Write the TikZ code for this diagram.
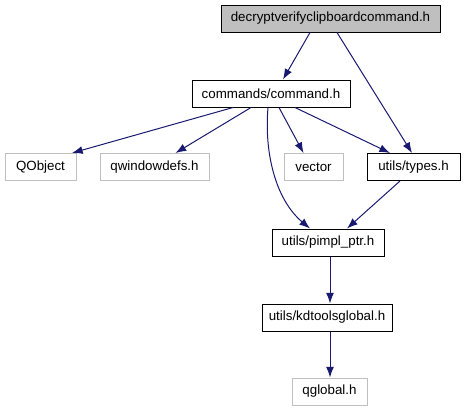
\documentclass[tikz,border=0pt]{standalone}
\usepackage{fontspec}
\setmainfont{Liberation Sans}
\usetikzlibrary{calc,arrows.meta}
\definecolor{midnight}{RGB}{25,25,112}

\begin{document}
\begin{tikzpicture}[x=0.75pt,y=-0.75pt,
    font=\fontsize{10}{12}\selectfont,
    file/.style={draw=black,line width=0.75pt,fill=white,inner sep=0pt,minimum height=20.25pt},
    sysfile/.style={draw=black!25,line width=0.75pt,fill=white,inner sep=0pt,minimum height=20.25pt},
    main/.style={draw=black,line width=0.75pt,fill=black!25,inner sep=0pt,minimum height=20.25pt},
    dep/.style={draw=midnight,line width=0.75pt,-{Latex[length=8pt,width=6pt]}}]
            \useasboundingbox (0,0) rectangle (466,411);
            \node[main,minimum width=164.25pt] (top) at (330.5,18.5) {decryptverifyclipboardcommand.h};
            \node[file,minimum width=118.5pt] (cmd) at (271,93.5) {commands/command.h};

            \node[sysfile,minimum width=53.25pt] (qobj) at (40.5,167) {QObject};
            \node[sysfile,minimum width=81.75pt] (qwin) at (154.5,167) {qwindowdefs.h};
            \node[sysfile,minimum width=44.25pt] (vec) at (313.5,167) {vector};
            \node[file,minimum width=69.75pt] (types) at (413.5,167) {utils/types.h};

            \node[file,minimum width=84pt] (pimpl) at (328,242.5) {utils/pimpl\_ptr.h};
            \node[file,minimum width=97.5pt] (kdtg) at (327,317.5) {utils/kdtoolsglobal.h};
            \node[sysfile,minimum width=56.25pt] (qglob) at (329.5,391.5) {qglobal.h};
            \path[every edge/.style=dep]
            ($(top.south)+(-20.5,0)$) edge ($(cmd.north)+(12,0)$)
            ($(top.south)+(6.5,0)$) edge ($(types.north)+(-1.5,0)$)
            ($(cmd.south)+(-38,0)$) edge ($(qobj.north)+(31.5,0)$)
            ($(cmd.south)+(-20,0)$) edge ($(qwin.north)+(21,0)$)
            ($(cmd.south)+(8,0)$) edge ($(vec.north)+(-10,0)$)
            ($(cmd.south)+(24,0)$) edge ($(types.north)+(-23.5,0)$)
            ($(cmd.south)+(-3,0)$) edge[out=-95,in=140,looseness=0.9] ($(pimpl.north)+(-18,0)$)
            ($(types.south)+(-13.5,0)$) edge ($(pimpl.north)+(19,0)$)
            ($(pimpl.south)+(2,0)$) edge ($(kdtg.north)+(3,0)$)
            ($(kdtg.south)+(3,0)$) edge ($(qglob.north)+(0.5,0)$);
            \end{tikzpicture}
\end{document}
